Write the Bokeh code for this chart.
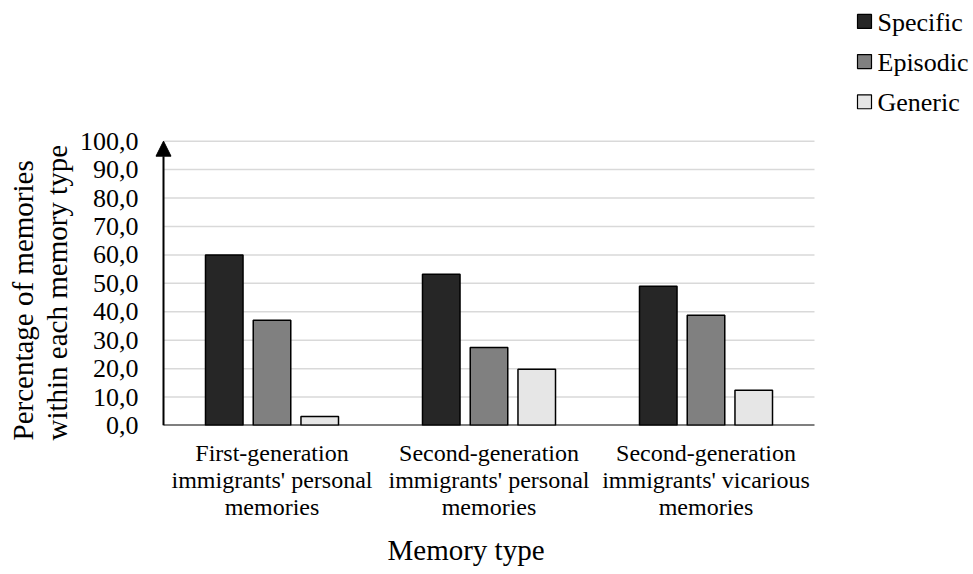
from bokeh.core.properties import value
from bokeh.embed import file_html
from bokeh.models import (Arrow, ColumnDataSource, FixedTicker, NormalHead,
                          Range1d, Title)
from bokeh.plotting import figure
from bokeh.resources import INLINE

# --- data -------------------------------------------------------------------
categories = [
    "First-generation\nimmigrants' personal\nmemories",
    "Second-generation\nimmigrants' personal\nmemories",
    "Second-generation\nimmigrants' vicarious\nmemories",
]
series = ["Specific", "Episodic", "Generic"]
specific = [60.0, 53.2, 49.0]
episodic = [37.0, 27.4, 38.8]
generic = [3.2, 19.8, 12.4]
y_ticks = [0, 10, 20, 30, 40, 50, 60, 70, 80, 90, 100]

values = {"Specific": specific, "Episodic": episodic, "Generic": generic}
fills = {"Specific": "#262626", "Episodic": "#808080", "Generic": "#e6e6e6"}
offsets = {"Specific": -0.22, "Episodic": 0.0, "Generic": 0.22}

FONT = "Liberation Serif"
n = len(categories)

# --- layout (pixels) --------------------------------------------------------
W, H = 973, 574
FRAME_LEFT = 153          # frame starts a little left of the value axis
AXIS_X = 163              # value axis position
PLOT_RIGHT = 814          # right end of gridlines
ZERO_Y, TOP_Y = 426, 141  # pixel rows of 0 and 100

unit_x = (PLOT_RIGHT - AXIS_X) / n
unit_y = (ZERO_Y - TOP_Y) / 100.0
x_start = -(AXIS_X - FRAME_LEFT) / unit_x
x_end = x_start + (W - FRAME_LEFT) / unit_x
y_end = ZERO_Y / unit_y   # frame reaches the top of the canvas

p = figure(
    width=W, height=H,
    x_range=Range1d(x_start, x_end), y_range=Range1d(0, y_end),
    output_backend="svg", toolbar_location=None,
    min_border_left=FRAME_LEFT, min_border_right=0,
    min_border_top=0, min_border_bottom=H - ZERO_Y,
)
p.outline_line_color = None
p.background_fill_color = "white"
p.border_fill_color = "white"
p.xgrid.grid_line_color = None
p.ygrid.grid_line_color = None

# pixel-space ranges for the legend block
p.extra_x_ranges = {"px": Range1d(FRAME_LEFT, W)}
p.extra_y_ranges = {"px": Range1d(ZERO_Y, 0)}

# horizontal gridlines, running from the value axis to the right edge
grid_y = y_ticks[1:]
p.segment(x0=[0] * len(grid_y), x1=[n] * len(grid_y), y0=grid_y, y1=grid_y,
          line_color="#d9d9d9", line_width=1.5)

# bars
for name in series:
    src = ColumnDataSource(dict(
        x=[i + 0.5 + offsets[name] for i in range(n)],
        top=values[name],
    ))
    p.vbar(x="x", top="top", bottom=0, width=0.173, source=src,
           fill_color=fills[name], line_color="black", line_width=1.5)

# category axis line
p.segment(x0=[0], x1=[n], y0=[0], y1=[0], line_color="black", line_width=2)

# value axis drawn as an arrow
p.add_layout(Arrow(
    end=NormalHead(size=15, fill_color="black", line_color="black", line_width=1),
    x_start=0, y_start=0, x_end=0, y_end=100,
    line_color="black", line_width=2,
))

# y axis: tick labels only
p.yaxis.ticker = FixedTicker(ticks=y_ticks)
p.yaxis.major_label_overrides = {t: f"{t:.1f}".replace(".", ",") for t in y_ticks}
p.yaxis.axis_line_color = None
p.yaxis.major_tick_line_color = None
p.yaxis.minor_tick_line_color = None
p.yaxis.major_label_text_font = FONT
p.yaxis.major_label_text_font_size = "26px"
p.yaxis.major_label_text_color = "black"
p.yaxis.major_label_standoff = 9

p.add_layout(Title(
    text="Percentage of memories\nwithin each memory type",
    align="left", offset=-15, standoff=7,
    text_font=FONT, text_font_size="29px", text_font_style="normal",
    text_color="black", text_line_height=1.05,
), "left")

# x axis: category names under each group
p.xaxis.ticker = FixedTicker(ticks=[i + 0.5 for i in range(n)])
p.xaxis.major_label_overrides = {i + 0.5: c for i, c in enumerate(categories)}
p.xaxis.axis_line_color = None
p.xaxis.major_tick_line_color = None
p.xaxis.minor_tick_line_color = None
p.xaxis.major_label_text_font = FONT
p.xaxis.major_label_text_font_size = "24px"
p.xaxis.major_label_text_color = "black"
p.xaxis.major_label_text_line_height = 1.05
p.xaxis.major_label_standoff = 8

p.add_layout(Title(
    text="Memory type", align="left", offset=234, standoff=17,
    text_font=FONT, text_font_size="29px", text_font_style="normal",
    text_color="black",
), "below")

# legend block in the top-right corner
leg_src = ColumnDataSource(dict(
    x=[864] * len(series),
    y=[21 + 40.25 * i for i in range(len(series))],
    fill=[fills[s] for s in series],
    label=series,
))
p.rect(x="x", y="y", width=14, height=14, source=leg_src,
       fill_color="fill", line_color="black", line_width=1.2,
       x_range_name="px", y_range_name="px")
p.text(x=877, y="y", text="label", source=leg_src,
       text_font=value(FONT), text_font_size="26px", text_color="black",
       text_baseline="middle", text_align="left", y_offset=1,
       x_range_name="px", y_range_name="px")

open("out.html", "w").write(file_html(p, INLINE))
